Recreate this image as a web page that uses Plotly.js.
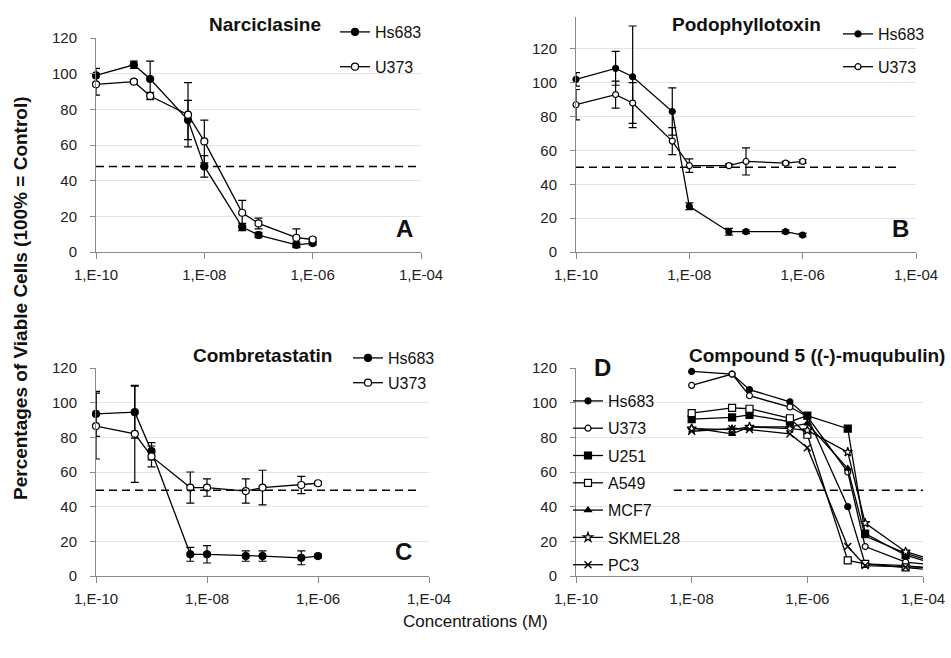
<!DOCTYPE html>
<html>
<head>
<meta charset="utf-8">
<script src="https://cdn.plot.ly/plotly-3.0.1.min.js"></script>
<style>html,body{margin:0;padding:0;background:#fff;}#chart{width:951px;height:658px;}</style>
</head>
<body>
<div id="chart"></div>
<script>
// ---- data ----
const conc = [1e-10, 5e-10, 1e-9, 5e-9, 1e-8, 5e-8, 1e-7, 5e-7, 1e-6];
const concD = [1e-8, 5e-8, 1e-7, 5e-7, 1e-6, 5e-6, 1e-5, 5e-5, 1e-4];

const narcHs683 = [99, 105, 97, 74, 48, 14, 9.5, 4, 5];
const narcHs683Err = [4, 2, 10, 11, 6, 2, 1.5, 1.5, 1];
const narcU373 = [94, 95.5, 87.5, 77, 62, 22, 16, 8, 7];
const narcU373Err = [6, 1, 2, 18, 12, 7, 3, 5, 1];

const podoHs683 = [102, 108.5, 103.5, 83, 27, 12, 12, 12, 10];
const podoHs683Err = [4, 10, 30, 14, 2, 2, 1, 1, 1];
const podoU373 = [87, 93, 88, 65.5, 51, 51, 53.5, 52.5, 53.5];
const podoU373Err = [9, 8, 12, 8, 4, 1, 8, 1, 1];

const combHs683 = [93.5, 94.5, 72, 12.5, 12.5, 11.5, 11.5, 10.5, 11.5];
const combHs683Err = [13, 15, 5, 4, 5, 3, 3, 4, 1];
const combU373 = [86.5, 82, 69, 51, 51, 49, 51, 52.5, 53.5];
const combU373Err = [19, 28, 6, 9, 5, 7, 10, 5, 1];

const dHs683 = [118, 116.5, 107.5, 100.5, 92, 40, 7, 6, 5];
const dU373 = [110, 116.5, 104, 97.5, 92, 60, 17, 8, 7];
const dU251 = [90.5, 91.5, 93, 89, 92.5, 85, 24.5, 12, 9];
const dA549 = [94, 97, 96.5, 91, 81.5, 9, 7, 5, 4];
const dMCF7 = [85.5, 82, 86, 86, 88, 62, 23, 13, 10];
const dSKMEL28 = [85, 84.5, 86, 85, 84, 71.5, 30.5, 14, 11];
const dPC3 = [83.5, 85, 84.5, 82, 74, 17, 6, 5, 5];

const thresholds = [48, 50, 49.5, 49.5];
const panelTitles = ['Narciclasine', 'Podophyllotoxin', 'Combretastatin', 'Compound 5 ((-)-muqubulin)'];
const panelLetters = ['A', 'B', 'C', 'D'];
const xTickVals = [1e-10, 1e-8, 1e-6, 1e-4];
const xTickText = ['1,E-10', '1,E-08', '1,E-06', '1,E-04'];
const yTickVals = [0, 20, 40, 60, 80, 100, 120];

// ---- helpers ----
const W = 951, H = 658;
const px = v => v / W;
const py = v => 1 - v / H;
const FONT = 'Liberation Sans, Arial, sans-serif';

function errBar(arr) {
  return {type: 'data', array: arr, visible: true, color: '#000', thickness: 1.2, width: 4};
}
function mk(x, y, name, sym, filled, xa, ya, leg, err, size) {
  const t = {
    x: x, y: y, name: name, type: 'scatter', mode: 'lines+markers',
    xaxis: xa, yaxis: ya, legend: leg, legendgroup: leg + name,
    line: {color: '#000', width: 1.3},
    marker: {symbol: sym, size: size || 7, color: filled ? '#000' : '#fff', line: {color: '#000', width: 1.2}},
    cliponaxis: false, hoverinfo: 'skip'
  };
  if (err) t.error_y = errBar(err);
  return t;
}

const data = [
  mk(conc, narcHs683, 'Hs683', 'circle', true, 'x', 'y', 'legend', narcHs683Err),
  mk(conc, narcU373, 'U373', 'circle', false, 'x', 'y', 'legend', narcU373Err),
  mk(conc, podoHs683, 'Hs683', 'circle', true, 'x2', 'y2', 'legend2', podoHs683Err, 6),
  mk(conc, podoU373, 'U373', 'circle', false, 'x2', 'y2', 'legend2', podoU373Err, 6),
  mk(conc, combHs683, 'Hs683', 'circle', true, 'x3', 'y3', 'legend3', combHs683Err),
  mk(conc, combU373, 'U373', 'circle', false, 'x3', 'y3', 'legend3', combU373Err),
  mk(concD, dHs683, 'Hs683', 'circle', true, 'x4', 'y4', 'legend4', null, 6),
  mk(concD, dU373, 'U373', 'circle', false, 'x4', 'y4', 'legend4', null, 6),
  mk(concD, dU251, 'U251', 'square', true, 'x4', 'y4', 'legend4', null, 7),
  mk(concD, dA549, 'A549', 'square', false, 'x4', 'y4', 'legend4', null, 7),
  mk(concD, dMCF7, 'MCF7', 'triangle-up', true, 'x4', 'y4', 'legend4', null, 6),
  mk(concD, dSKMEL28, 'SKMEL28', 'star', false, 'x4', 'y4', 'legend4', null, 7),
  mk(concD, dPC3, 'PC3', 'x-thin', true, 'x4', 'y4', 'legend4', null, 7)
];
data[data.length - 1].marker.line.width = 1.4;

function xax(d0, d1, anchor) {
  return {
    type: 'log', range: [-10, -4], domain: [px(d0), px(d1)], anchor: anchor,
    tickvals: xTickVals, ticktext: xTickText, tickfont: {family: FONT, size: 15, color: '#222'},
    showline: true, linecolor: '#888', linewidth: 1, ticks: 'outside', ticklen: 6, tickcolor: '#888',
    showgrid: false, zeroline: false, fixedrange: true, ticklabelstandoff: 3
  };
}
function yax(top, bottom, rmax, anchor) {
  return {
    range: [0, rmax], domain: [py(bottom), py(top)], anchor: anchor,
    tickvals: yTickVals, tickfont: {family: FONT, size: 15, color: '#222'},
    showline: true, linecolor: '#888', linewidth: 1, ticks: 'outside', ticklen: 5, tickcolor: '#888',
    showgrid: true, gridcolor: '#e3e3e3', gridwidth: 1, zeroline: false, fixedrange: true, ticklabelstandoff: 10
  };
}
function leg(x, y, gap) {
  return {x: px(x), y: py(y), xanchor: 'left', yanchor: 'top', bgcolor: 'rgba(0,0,0,0)',
    font: {family: FONT, size: 16, color: '#111'}, tracegroupgap: gap, itemclick: false, itemdoubleclick: false};
}
function dash(xr, yr, x0, x1, y) {
  return {type: 'line', xref: xr + ' domain', yref: yr, x0: x0, x1: x1, y0: y, y1: y,
    line: {color: '#000', width: 1.5, dash: '8px,5px'}};
}
function ann(text, x, y, size, bold, extra) {
  return Object.assign({text: bold ? '<b>' + text + '</b>' : text, xref: 'paper', yref: 'paper',
    x: px(x), y: py(y), showarrow: false, xanchor: 'center', yanchor: 'middle',
    font: {family: FONT, size: size, color: '#111'}}, extra || {});
}

const layout = {
  width: W, height: H, margin: {l: 0, r: 0, t: 0, b: 0},
  paper_bgcolor: '#fff', plot_bgcolor: '#fff', showlegend: true,
  xaxis: xax(96, 421, 'y'), yaxis: yax(38, 252, 120, 'x'),
  xaxis2: xax(576, 916, 'y2'), yaxis2: yax(16.7, 252, 139, 'x2'),
  xaxis3: xax(96, 429, 'y3'), yaxis3: yax(368, 576, 120, 'x3'),
  xaxis4: xax(576, 923, 'y4'), yaxis4: yax(368, 576, 120, 'x4'),
  legend: leg(335, 15, 11),
  legend2: leg(838, 17, 9),
  legend3: leg(348, 341, 1),
  legend4: leg(568, 384, 3.5),
  shapes: [
    dash('x', 'y', 0, 0.988, thresholds[0]),
    dash('x2', 'y2', 0, 0.944, thresholds[1]),
    dash('x3', 'y3', 0, 0.964, thresholds[2]),
    dash('x4', 'y4', 0.282, 1, thresholds[3])
  ],
  annotations: [
    ann(panelTitles[0], 265, 24, 19, true),
    ann(panelTitles[1], 746, 24, 19, true),
    ann(panelTitles[2], 262, 355, 19, true),
    ann(panelTitles[3], 687, 355, 19, true, {xanchor: 'left'}),
    ann(panelLetters[0], 404, 228, 24, true),
    ann(panelLetters[1], 900, 228, 24, true),
    ann(panelLetters[2], 403, 551, 24, true),
    ann(panelLetters[3], 602, 367, 24, true),
    ann('Percentages of Viable Cells (100% = Control)', 20, 298, 19, true, {textangle: -90}),
    ann('Concentrations (M)', 475, 621, 17, false)
  ]
};

Plotly.newPlot('chart', data, layout, {staticPlot: true, displayModeBar: false});
</script>
</body>
</html>
